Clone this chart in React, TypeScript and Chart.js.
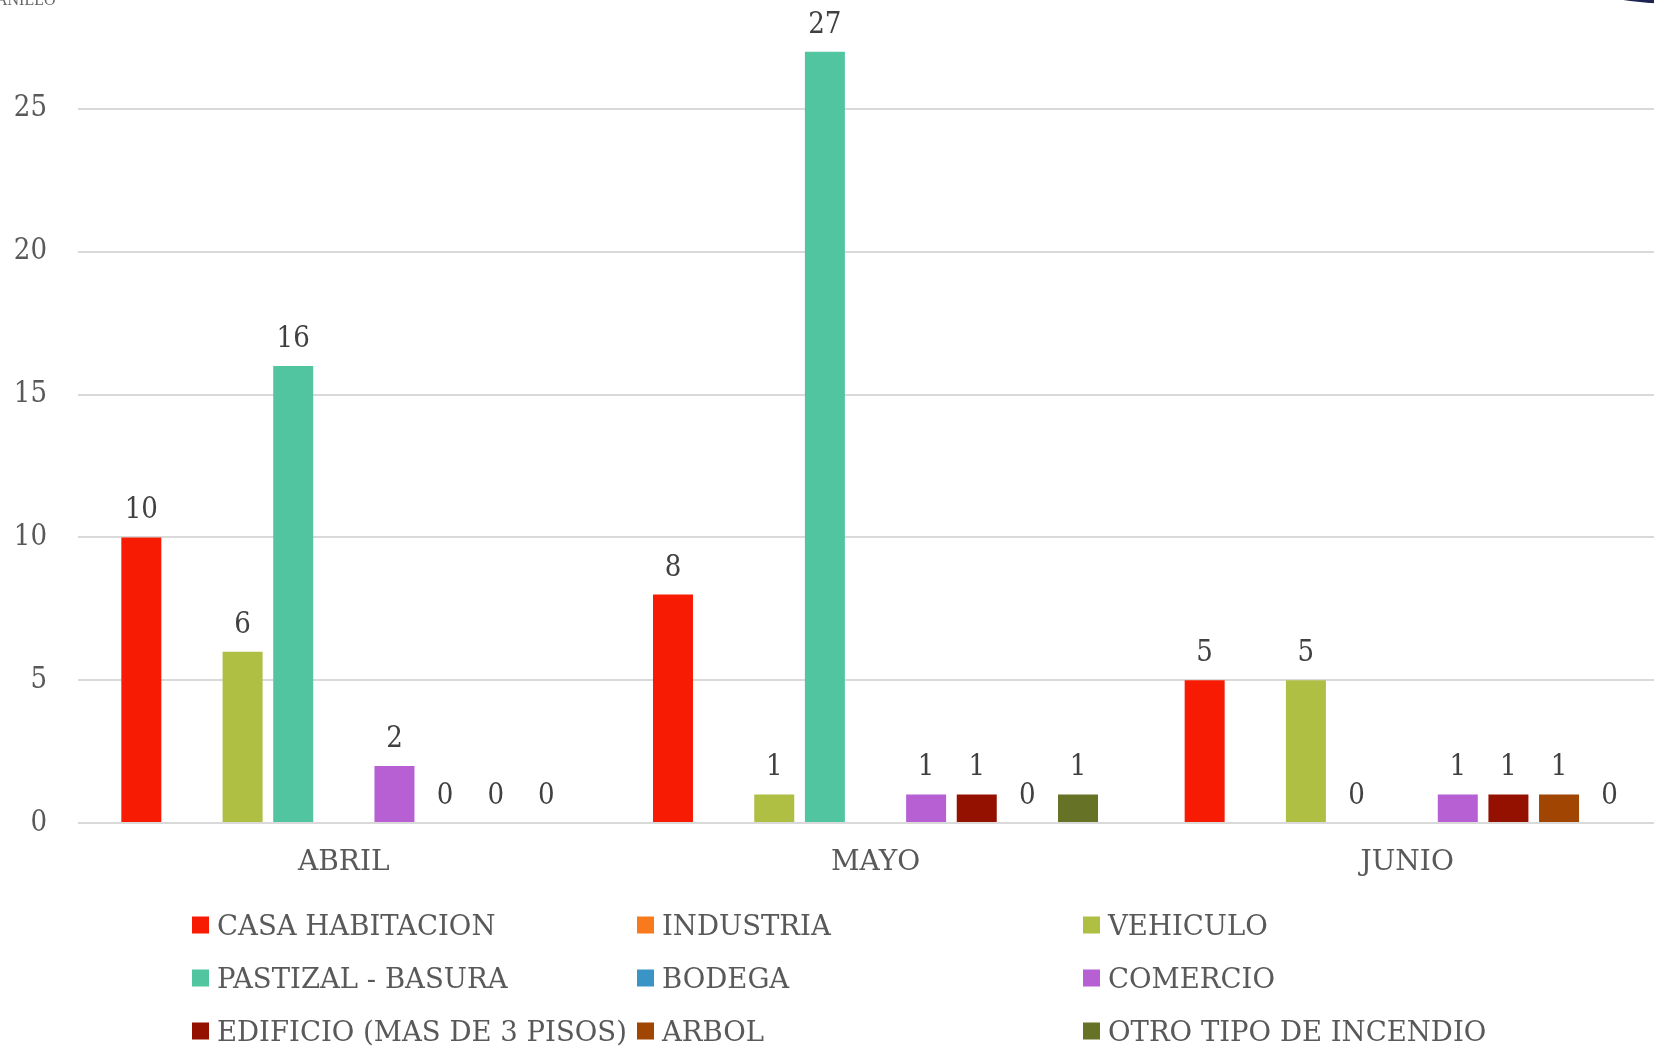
import React, { useEffect, useRef } from "react";
import { Chart, registerables } from "chart.js";

Chart.register(...registerables);

const categories = ["ABRIL", "MAYO", "JUNIO"];
const seriesNames = [
  "CASA HABITACION",
  "INDUSTRIA",
  "VEHICULO",
  "PASTIZAL - BASURA",
  "BODEGA",
  "COMERCIO",
  "EDIFICIO (MAS DE 3 PISOS)",
  "ARBOL",
  "OTRO TIPO DE INCENDIO",
];
const casaHabitacion = [10, 8, 5];
const industria = [null, null, null];
const vehiculo = [6, 1, 5];
const pastizalBasura = [16, 27, 0];
const bodega = [null, null, null];
const comercio = [2, 1, 1];
const edificio = [0, 1, 1];
const arbol = [0, 0, 1];
const otroTipo = [0, 1, 0];
const yTicks = [0, 5, 10, 15, 20, 25];

const seriesValues = [
  casaHabitacion,
  industria,
  vehiculo,
  pastizalBasura,
  bodega,
  comercio,
  edificio,
  arbol,
  otroTipo,
];
const seriesColors = [
  "#F81B03",
  "#F97A1C",
  "#AFBF43",
  "#50C5A0",
  "#3A94C6",
  "#B660D4",
  "#941100",
  "#A04502",
  "#667225",
];

const NUM_FONT = "'DejaVu Serif Condensed', 'DejaVu Serif', serif";
const TXT_FONT = "'DejaVu Serif', serif";
const OFFSET = 48; // canvas is shifted up by this many px (top of chart is cropped)

const dataLabelPlugin = {
  id: "dataLabels",
  afterDatasetsDraw(chart: any) {
    const ctx = chart.ctx;
    ctx.save();
    ctx.font = `29px ${NUM_FONT}`;
    ctx.fillStyle = "#404040";
    ctx.textAlign = "center";
    ctx.textBaseline = "alphabetic";
    chart.data.datasets.forEach((ds: any, di: number) => {
      const meta = chart.getDatasetMeta(di);
      if (meta.hidden) return;
      meta.data.forEach((el: any, i: number) => {
        const v = ds.data[i];
        if (v === null || v === undefined) return;
        ctx.fillText(String(v), el.x, el.y - 19);
      });
    });
    ctx.restore();
  },
};

const gridLegendPlugin = {
  id: "gridLegend",
  afterDraw(chart: any) {
    const ctx = chart.ctx;
    const colX = [192, 637, 1083];
    const rowY = [925, 978, 1031];
    ctx.save();
    ctx.font = `27.5px ${TXT_FONT}`;
    ctx.textAlign = "left";
    ctx.textBaseline = "alphabetic";
    chart.data.datasets.forEach((ds: any, i: number) => {
      const x = colX[i % 3];
      const y = rowY[Math.floor(i / 3)] + OFFSET;
      ctx.fillStyle = ds.backgroundColor;
      ctx.fillRect(x, y - 8.5, 17, 17);
      ctx.fillStyle = "#595959";
      ctx.fillText(ds.label, x + 25, y + 10);
    });
    ctx.restore();
  },
};

export default function App() {
  const ref = useRef<HTMLCanvasElement>(null);

  useEffect(() => {
    if (!ref.current) return;
    const chart = new Chart(ref.current, {
      type: "bar",
      data: {
        labels: categories,
        datasets: seriesNames.map((name, i) => ({
          label: name,
          data: seriesValues[i] as any,
          backgroundColor: seriesColors[i],
          borderWidth: 0,
          categoryPercentage: 0.857,
          barPercentage: 0.79,
        })),
      },
      options: {
        animation: false,
        responsive: false,
        layout: { padding: { top: 0, left: 0, right: 0, bottom: 147 } },
        plugins: {
          legend: { display: false },
          tooltip: { enabled: false },
        },
        scales: {
          x: {
            grid: { display: false, drawTicks: false },
            border: { display: false },
            ticks: {
              color: "#595959",
              font: { family: TXT_FONT, size: 28 },
              padding: 23,
            },
            afterFit: (axis: any) => {
              axis.height = 80;
            },
          },
          y: {
            min: 0,
            max: 28.8,
            grid: { color: "#D9D9D9", lineWidth: 2, drawTicks: false },
            border: { display: false },
            afterBuildTicks: (axis: any) => {
              axis.ticks = yTicks.map((v) => ({ value: v }));
            },
            ticks: {
              color: "#595959",
              font: { family: NUM_FONT, size: 29 },
              padding: 31,
            },
            afterFit: (axis: any) => {
              axis.width = 78;
            },
          },
        },
      },
      plugins: [dataLabelPlugin, gridLegendPlugin],
    });
    return () => chart.destroy();
  }, []);

  return (
    <div
      style={{
        position: "absolute",
        left: 0,
        top: 0,
        width: 1654,
        height: 1050,
        overflow: "hidden",
        background: "#fff",
      }}
    >
      <canvas
        ref={ref}
        width={1673}
        height={1098}
        style={{ position: "absolute", left: 0, top: -OFFSET, width: 1673, height: 1098 }}
      />
      <span
        style={{
          position: "absolute",
          left: -4,
          top: -8,
          fontFamily: "'Liberation Serif', serif",
          fontSize: 16,
          color: "#666",
          lineHeight: "16px",
        }}
      >
        ANILLO
      </span>
      <div
        style={{
          position: "absolute",
          left: 1550,
          top: -76,
          width: 260,
          height: 80,
          borderRadius: "50%",
          background: "#1b2452",
        }}
      />
    </div>
  );
}
